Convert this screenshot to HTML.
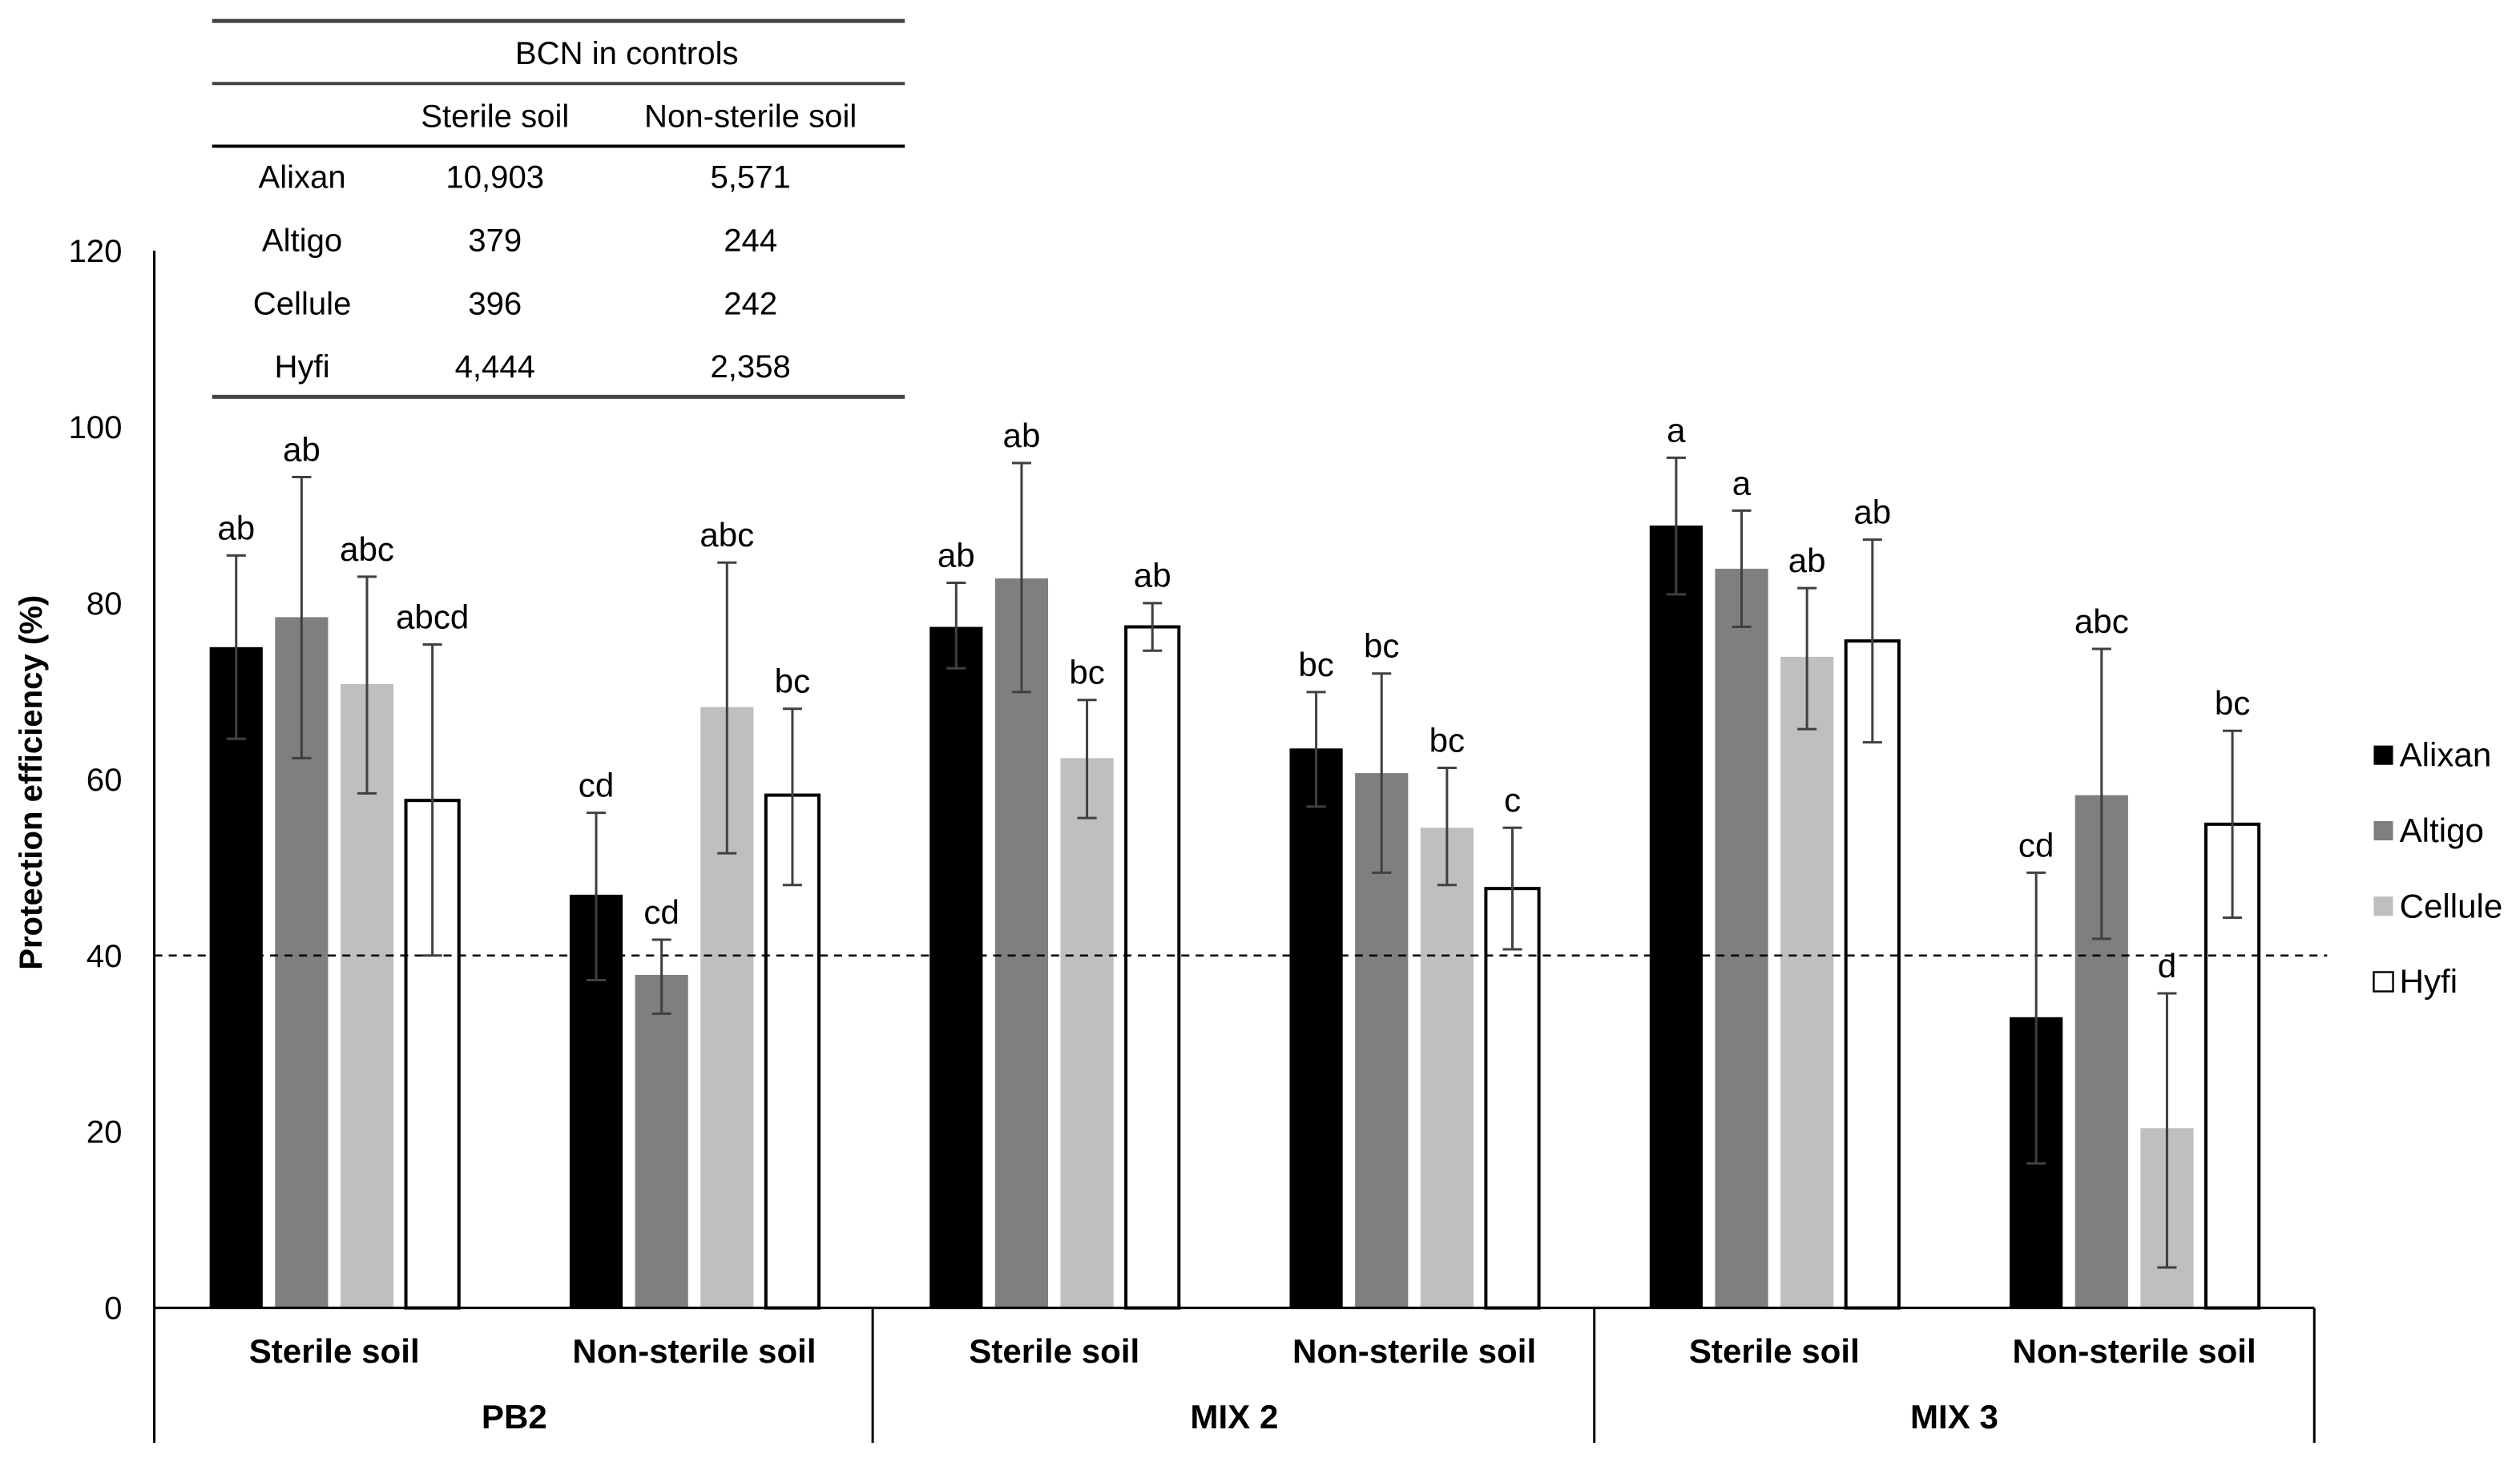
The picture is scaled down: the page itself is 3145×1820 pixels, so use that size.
<!DOCTYPE html>
<html><head><meta charset="utf-8"><style>
html,body{margin:0;padding:0;background:#fff;}
svg{display:block;font-family:"Liberation Sans",Arial,sans-serif;}
</style></head><body>
<svg id="chart" width="3145" height="1820" viewBox="0 0 1568 907.4" preserveAspectRatio="none" xmlns="http://www.w3.org/2000/svg">
<g id="table"></g>
<g id="plot"></g>
</svg>
<script>
const groups = ["PB2","MIX 2","MIX 3"];
const soils = ["Sterile soil","Non-sterile soil"];
const series = ["Alixan","Altigo","Cellule","Hyfi"];
const alixanVals = [75,46.9,77.3,63.5,88.8,33];
const altigoVals = [78.4,37.8,82.8,60.7,83.9,58.2];
const celluleVals = [70.8,68.2,62.4,54.5,73.9,20.4];
const hyfiVals = [57.6,58.2,77.3,47.6,75.7,54.9];
const alixanErrHi = [85.4,56.2,82.3,69.9,96.5,49.4];
const alixanErrLo = [64.6,37.2,72.6,56.9,81,16.4];
const altigoErrHi = [94.3,41.8,95.9,72,90.5,74.8];
const altigoErrLo = [62.4,33.4,69.9,49.4,77.3,41.9];
const celluleErrHi = [83,84.6,69,61.3,81.7,35.7];
const celluleErrLo = [58.4,51.6,55.6,48,65.7,4.6];
const hyfiErrHi = [75.3,68,80,54.5,87.2,65.5];
const hyfiErrLo = [40,48,74.6,40.7,64.2,44.3];
const alixanLetters = ["ab","cd","ab","bc","a","cd"];
const altigoLetters = ["ab","cd","ab","bc","a","abc"];
const celluleLetters = ["abc","abc","bc","bc","ab","d"];
const hyfiLetters = ["abcd","bc","ab","c","ab","bc"];
const yTicks = [0,20,40,60,80,100,120];
const threshold = 40;
const tableRows = ["Alixan","Altigo","Cellule","Hyfi"];
const tableSterile = ["10,903","379","396","4,444"];
const tableNonSterile = ["5,571","244","242","2,358"];

const NS="http://www.w3.org/2000/svg";
function mk(tag,attrs,parent,text){const e=document.createElementNS(NS,tag);for(const k in attrs)e.setAttribute(k,attrs[k]);if(text!==undefined)e.textContent=text;parent.appendChild(e);return e;}
const plot=document.getElementById('plot');
const table=document.getElementById('table');
const x0=96, xEnd=1440, y0=814, yTop=156;
const yScale=v=>y0-(v/120)*(y0-yTop);
const band=(xEnd-x0)/6;
const bandCenter=i=>x0+band*(i+0.5);
const barW=33, pitch=40.7;
const barX=(i,s)=>bandCenter(i)+(s-1.5)*pitch-barW/2;
const fills=["#000000","#7f7f7f","#bfbfbf","#ffffff"];
const vals=[alixanVals,altigoVals,celluleVals,hyfiVals];
const his=[alixanErrHi,altigoErrHi,celluleErrHi,hyfiErrHi];
const los=[alixanErrLo,altigoErrLo,celluleErrLo,hyfiErrLo];
const lets=[alixanLetters,altigoLetters,celluleLetters,hyfiLetters];

// ticks
yTicks.forEach(t=>{
  const e=mk('text',{x:76,y:yScale(t)+7,'text-anchor':'end','font-size':20,fill:'#000'},plot,String(t));
  
  
});
const yt=mk('text',{x:0,y:0,transform:'translate(26,487) rotate(-90)','text-anchor':'middle','font-size':20,'font-weight':'bold'},plot,'Protection efficiency (%)');



// bars
for(let s=0;s<4;s++){
  for(let i=0;i<6;i++){
    const v=vals[s][i], x=barX(i,s);
    const r=mk('rect',{x:x,y:yScale(v),width:barW,height:y0-yScale(v),fill:fills[s],stroke:s===3?'#000':'none','stroke-width':s===3?2:0},plot);
    
    
  }
}
// threshold line
const th=mk('line',{x1:x0,x2:1448,y1:yScale(threshold),y2:yScale(threshold),stroke:'#000','stroke-width':1.2,'stroke-dasharray':'5,4'},plot);


// error bars & letters
for(let s=0;s<4;s++){
  for(let i=0;i<6;i++){
    const cx=barX(i,s)+barW/2, hy=yScale(his[s][i]), ly=yScale(los[s][i]);
    const g=mk('g',{stroke:'#404040','stroke-width':1.5},plot);
    
    
    mk('line',{x1:cx,x2:cx,y1:hy,y2:ly},g);
    mk('line',{x1:cx-6,x2:cx+6,y1:hy,y2:hy},g);
    mk('line',{x1:cx-6,x2:cx+6,y1:ly,y2:ly},g);
    const t=mk('text',{x:cx,y:hy-10,'text-anchor':'middle','font-size':21},plot,lets[s][i]);
    
    
  }
}
// axes
const ax=mk('g',{stroke:'#000','stroke-width':1.5},plot);


mk('line',{x1:x0,x2:x0,y1:yTop,y2:898},ax);
mk('line',{x1:x0,x2:xEnd,y1:y0,y2:y0},ax);
[543,992,1440].forEach(x=>mk('line',{x1:x,x2:x,y1:y0,y2:898},ax));
for(let i=0;i<6;i++){
  const t=mk('text',{x:bandCenter(i),y:848,'text-anchor':'middle','font-size':21,'font-weight':'bold'},plot,soils[i%2]);
  
  
}
groups.forEach((g,j)=>{
  const t=mk('text',{x:x0+band*(2*j+1),y:889,'text-anchor':'middle','font-size':21,'font-weight':'bold'},plot,g);
  
  
});
// legend
series.forEach((n,s)=>{
  const y=469+47*s;
  const r=mk('rect',{x:1477,y:y-5,width:12,height:12,fill:fills[s],stroke:'#000','stroke-width':s===3?1.2:0},plot);
  
  
  const t=mk('text',{x:1493,y:y+8,'font-size':21},plot,n);
  
  
});
// table
const tl=mk('g',{},table);


mk('line',{x1:132,x2:563,y1:13,y2:13,stroke:'#444','stroke-width':2.5},tl);
mk('line',{x1:132,x2:563,y1:52,y2:52,stroke:'#444','stroke-width':2},tl);
mk('line',{x1:132,x2:563,y1:91,y2:91,stroke:'#000','stroke-width':2},tl);
mk('line',{x1:132,x2:563,y1:247,y2:247,stroke:'#444','stroke-width':2.5},tl);
const tf={'font-size':20,'text-anchor':'middle','font-family':'"Liberation Sans Narrow","Liberation Sans",sans-serif'};
function tt(x,y,s,name){const e=mk('text',Object.assign({x:x,y:y,textLength:'',},tf),table,s);e.removeAttribute('textLength');return e;}
tt(390,40,'BCN in controls','table-title');
tt(308,79,'Sterile soil','table-header-sterile');
tt(467,79,'Non-sterile soil','table-header-nonsterile');
tableRows.forEach((r,k)=>{
  const y=117+39.3*k;
  tt(188,y,r,'table-row-label');
  tt(308,y,tableSterile[k],'table-cell-sterile');
  tt(467,y,tableNonSterile[k],'table-cell-nonsterile');
});
</script>
</body></html>
